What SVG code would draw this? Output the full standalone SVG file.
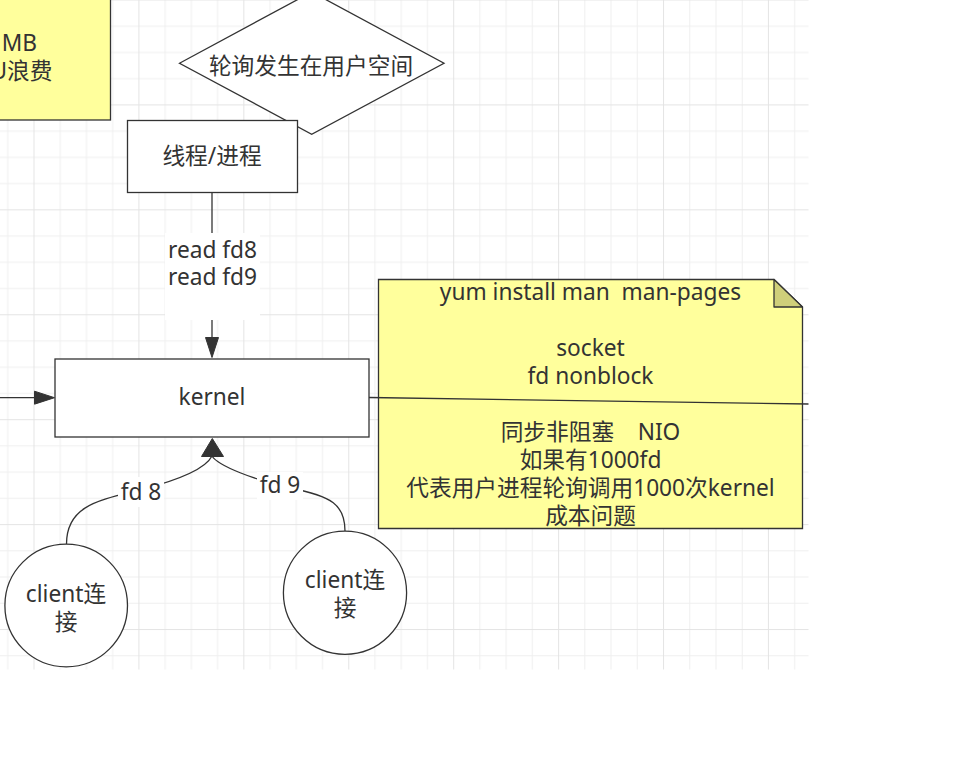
<svg xmlns="http://www.w3.org/2000/svg" width="966" height="784" viewBox="0 0 966 784">
<defs>
<pattern id="grid" patternUnits="userSpaceOnUse" x="33.5" y="-0.5" width="104.92" height="104.92">
<rect x="0" y="0" width="104.92" height="104.92" fill="#ffffff"/>
<g fill="#efefef">
<rect x="26.23" y="0" width="1" height="104.92"/>
<rect x="52.46" y="0" width="1" height="104.92"/>
<rect x="78.69" y="0" width="1" height="104.92"/>
</g>
<g fill="#efefef">
<rect x="0" y="26.23" width="104.92" height="1"/>
<rect x="0" y="52.46" width="104.92" height="1"/>
<rect x="0" y="78.69" width="104.92" height="1"/>
</g>
<g fill="#e4e4e4">
<rect x="0" y="0" width="1" height="104.92"/>
<rect x="0" y="0" width="104.92" height="1"/>
</g>
</pattern>
<style>
.t{font-family:"Noto Sans","Noto Sans CJK SC",sans-serif;font-size:22.7px;fill:#333333;text-anchor:middle;white-space:pre}
.shape{stroke:#333333;stroke-width:1.3}
.edge{stroke:#333333;stroke-width:1.3;fill:none}
.head{fill:#333333;stroke:#333333;stroke-width:1}
</style>
</defs>
<rect x="0" y="0" width="966" height="784" fill="#ffffff"/>
<rect x="0" y="0" width="808.5" height="669.5" fill="url(#grid)"/>

<g id="note-top-left">
<rect class="shape" x="-100" y="-10" width="210.5" height="130" fill="#ffff9c"/>
<text class="t" x="37" y="51" style="text-anchor:end">MB</text>
<text class="t" x="52.5" y="79" style="text-anchor:end">U浪费</text>
</g>

<g id="diamond-polling">
<polygon class="shape" points="179.5,63.2 311.7,-8 444,63.2 311.7,134.3" fill="#ffffff"/>
<text class="t" x="311" y="74">轮询发生在用户空间</text>
</g>

<g id="node-thread">
<rect class="shape" x="127.5" y="120.5" width="170" height="72" fill="#ffffff"/>
<text class="t" x="212" y="164">线程/进程</text>
</g>

<g id="node-kernel">
<rect class="shape" x="55" y="359" width="314" height="78" fill="#ffffff"/>
<text class="t" x="212" y="405">kernel</text>
</g>

<g id="note-nio">
<path class="shape" d="M378.5,279.5 H774 L802.5,307 V528.5 H378.5 Z" fill="#ffff9c"/>
<path class="shape" d="M774,279.5 V307 H802.5 Z" fill="#cfcf7a" stroke-linejoin="round"/>
<text class="t" x="590.5" y="300">yum install man  man-pages</text>
<text class="t" x="590.5" y="356">socket</text>
<text class="t" x="590.5" y="384">fd nonblock</text>
<text class="t" x="590.5" y="440">同步非阻塞    NIO</text>
<text class="t" x="590.5" y="468">如果有1000fd</text>
<text class="t" x="590.5" y="496">代表用户进程轮询调用1000次kernel</text>
<text class="t" x="590.5" y="524">成本问题</text>
</g>

<g id="client-1">
<circle class="shape" cx="66.2" cy="605.5" r="61.3" fill="#ffffff"/>
<text class="t" x="66" y="601.5">client连</text>
<text class="t" x="66" y="629.5">接</text>
</g>

<g id="client-2">
<circle class="shape" cx="345" cy="592.7" r="61.6" fill="#ffffff"/>
<text class="t" x="345" y="588">client连</text>
<text class="t" x="345" y="616">接</text>
</g>

<g id="connectors">
<line class="edge" x1="212" y1="193" x2="212" y2="338"/>
<polygon class="head" points="212,357.5 205.5,337.5 218.5,337.5"/>
<rect x="165" y="233" width="95" height="87" fill="#ffffff"/>
<text class="t" x="212.5" y="258">read fd8</text>
<text class="t" x="212.5" y="285">read fd9</text>

<line class="edge" x1="0" y1="397.7" x2="36" y2="397.7"/>
<polygon class="head" points="54.5,397.7 34.5,391.2 34.5,404.2"/>

<path class="edge" d="M66.5,544 C66.5,505 100,500 140,490 C175,481 205,470 212,456"/>
<path class="edge" d="M345,531 C345,505 332,496 290,488 C255,480 218,466 212,456"/>
<polygon class="head" points="212.3,438.5 201.5,456.5 223.5,456.5"/>
<rect x="118" y="477" width="46" height="30" fill="#ffffff"/>
<text class="t" x="141" y="500">fd 8</text>
<rect x="257" y="472" width="46" height="28" fill="#ffffff"/>
<text class="t" x="280" y="493">fd 9</text>

<line class="edge" x1="369" y1="397.5" x2="808.5" y2="404"/>
</g>
</svg>
